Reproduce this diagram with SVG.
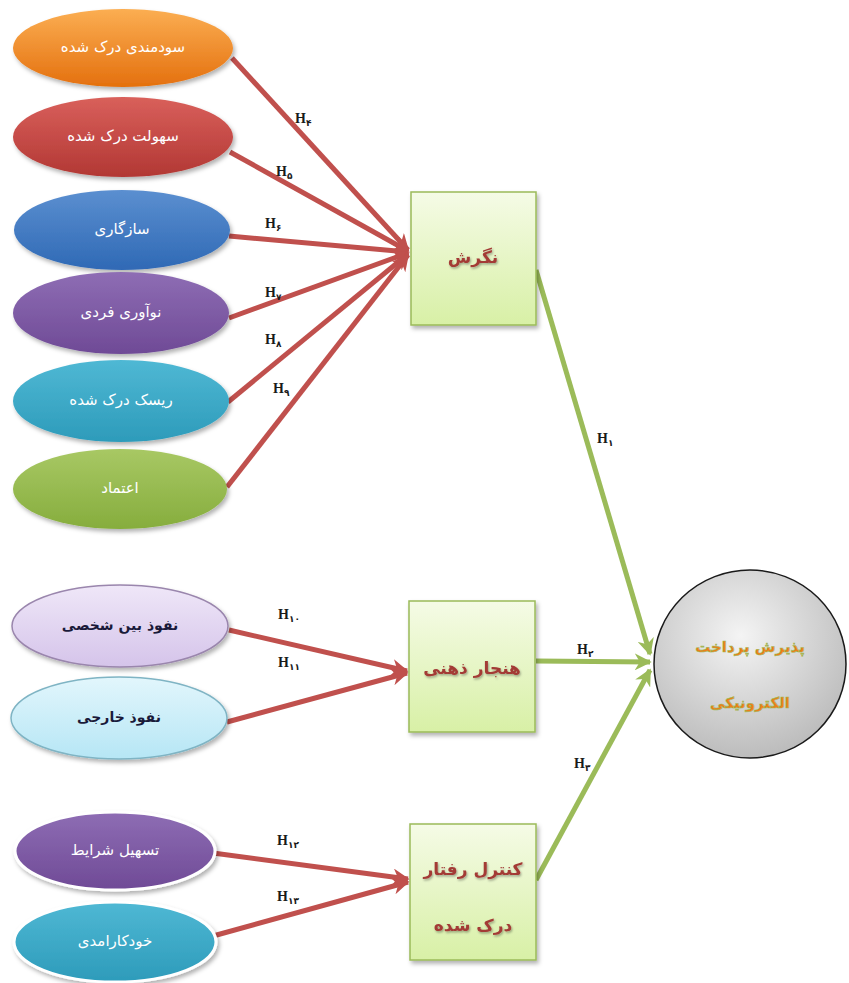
<svg xmlns="http://www.w3.org/2000/svg" width="849" height="983" viewBox="0 0 849 983">
<defs>
<style>
.et{font-family:"DejaVu Sans",sans-serif;font-size:15px;fill:#ffffff;text-anchor:middle;dominant-baseline:central}
.ed{font-family:"DejaVu Sans",sans-serif;font-size:14px;font-weight:bold;fill:#1a1a3a;text-anchor:middle;dominant-baseline:central}
.bt{font-family:"DejaVu Sans",sans-serif;font-size:17px;font-weight:bold;fill:#a33a36;text-anchor:middle;dominant-baseline:central}
.ct{font-family:"DejaVu Sans",sans-serif;font-size:15px;font-weight:bold;fill:#f07d1a;stroke:#9bbb59;stroke-width:0.6;text-anchor:middle;dominant-baseline:central}
.hl{font-family:"Liberation Serif",serif;font-size:14px;font-weight:bold;fill:#1a1a1a}
.hs{font-family:"DejaVu Sans",sans-serif;font-size:9px}
.red{stroke:#c0504d;stroke-width:5;fill:none;marker-end:url(#ar)}
.grn{stroke:#9bbb59;stroke-width:5;fill:none;marker-end:url(#ag)}
.box{fill:url(#gb);stroke:#9bbb59;stroke-width:1.5;filter:url(#sh)}
</style>
<filter id="sh" x="-20%" y="-20%" width="140%" height="140%"><feDropShadow dx="2" dy="3" stdDeviation="2" flood-color="#000" flood-opacity="0.3"/></filter>
<filter id="ts" x="-20%" y="-20%" width="140%" height="140%"><feDropShadow dx="1" dy="1.5" stdDeviation="1" flood-color="#000" flood-opacity="0.35"/></filter>
<marker id="ar" viewBox="0 0 10 10" refX="9" refY="5" markerWidth="3.4" markerHeight="3.4" orient="auto" markerUnits="strokeWidth"><path d="M0,0 L10,5 L0,10 L3,5 Z" fill="#c0504d"/></marker>
<marker id="ag" viewBox="0 0 10 10" refX="9" refY="5" markerWidth="3.4" markerHeight="3.4" orient="auto" markerUnits="strokeWidth"><path d="M0,0 L10,5 L0,10 L3,5 Z" fill="#9bbb59"/></marker>
<linearGradient id="go" x1="0" y1="0" x2="0" y2="1"><stop offset="0" stop-color="#fbae52"/><stop offset="1" stop-color="#e4700e"/></linearGradient>
<linearGradient id="gr" x1="0" y1="0" x2="0" y2="1"><stop offset="0" stop-color="#d9605b"/><stop offset="1" stop-color="#b23834"/></linearGradient>
<linearGradient id="gbl" x1="0" y1="0" x2="0" y2="1"><stop offset="0" stop-color="#5b8fd0"/><stop offset="1" stop-color="#2f69b5"/></linearGradient>
<linearGradient id="gp" x1="0" y1="0" x2="0" y2="1"><stop offset="0" stop-color="#8e6db4"/><stop offset="1" stop-color="#6f4a96"/></linearGradient>
<linearGradient id="gt" x1="0" y1="0" x2="0" y2="1"><stop offset="0" stop-color="#4fb8d4"/><stop offset="1" stop-color="#2d9bba"/></linearGradient>
<linearGradient id="gg" x1="0" y1="0" x2="0" y2="1"><stop offset="0" stop-color="#a8c864"/><stop offset="1" stop-color="#86ad3d"/></linearGradient>
<linearGradient id="gl" x1="0" y1="0" x2="0" y2="1"><stop offset="0" stop-color="#efe7f8"/><stop offset="1" stop-color="#d5c4ea"/></linearGradient>
<linearGradient id="gc" x1="0" y1="0" x2="0" y2="1"><stop offset="0" stop-color="#e2f6fc"/><stop offset="1" stop-color="#b6e6f5"/></linearGradient>
<linearGradient id="gb" x1="0" y1="0" x2="0" y2="1"><stop offset="0" stop-color="#f5fbe6"/><stop offset="1" stop-color="#d8f0a6"/></linearGradient>
<radialGradient id="gci" cx="0.45" cy="0.35" r="0.7"><stop offset="0" stop-color="#f4f4f4"/><stop offset="1" stop-color="#b8b8b8"/></radialGradient>
</defs>
<rect width="849" height="983" fill="#ffffff"/>

<g id="connectors">
<line class="red" x1="232" y1="58" x2="408" y2="250"/>
<line class="red" x1="230" y1="152" x2="408" y2="251"/>
<line class="red" x1="229" y1="236" x2="408" y2="252"/>
<line class="red" x1="229" y1="318" x2="408" y2="253"/>
<line class="red" x1="228" y1="402" x2="408" y2="254"/>
<line class="red" x1="227" y1="487" x2="408" y2="255"/>
<line class="red" x1="229" y1="630" x2="407" y2="671"/>
<line class="red" x1="227" y1="722" x2="407" y2="673"/>
<line class="red" x1="213" y1="853" x2="408" y2="879"/>
<line class="red" x1="213" y1="936" x2="408" y2="882"/>
<line class="grn" x1="536" y1="270" x2="650" y2="654"/>
<line class="grn" x1="536" y1="661" x2="650" y2="662"/>
<line class="grn" x1="536" y1="880" x2="650" y2="670"/>
<text class="hl" x="295" y="123">H<tspan class="hs" dy="3">۴</tspan></text>
<text class="hl" x="276" y="176">H<tspan class="hs" dy="3">۵</tspan></text>
<text class="hl" x="265" y="228">H<tspan class="hs" dy="3">۶</tspan></text>
<text class="hl" x="265" y="297">H<tspan class="hs" dy="3">۷</tspan></text>
<text class="hl" x="265" y="344">H<tspan class="hs" dy="3">۸</tspan></text>
<text class="hl" x="273" y="393">H<tspan class="hs" dy="3">۹</tspan></text>
<text class="hl" x="278" y="619">H<tspan class="hs" dy="3">۱۰</tspan></text>
<text class="hl" x="278" y="667">H<tspan class="hs" dy="3">۱۱</tspan></text>
<text class="hl" x="277" y="845">H<tspan class="hs" dy="3">۱۲</tspan></text>
<text class="hl" x="277" y="901">H<tspan class="hs" dy="3">۱۳</tspan></text>
<text class="hl" x="597" y="443">H<tspan class="hs" dy="3">۱</tspan></text>
<text class="hl" x="577" y="654">H<tspan class="hs" dy="3">۲</tspan></text>
<text class="hl" x="574" y="768">H<tspan class="hs" dy="3">۳</tspan></text>
</g>

<g id="n-sodmandi"><ellipse cx="123" cy="48" rx="110" ry="39" fill="url(#go)" filter="url(#sh)"/><text class="et" x="123" y="47">سودمندی درک شده</text></g>
<g id="n-sohoolat"><ellipse cx="123" cy="137" rx="110" ry="40" fill="url(#gr)" filter="url(#sh)"/><text class="et" x="123" y="136">سهولت درک شده</text></g>
<g id="n-sazgari"><ellipse cx="122" cy="230" rx="108" ry="40" fill="url(#gbl)" filter="url(#sh)"/><text class="et" x="122" y="229">سازگاری</text></g>
<g id="n-noavari"><ellipse cx="121" cy="313" rx="108" ry="41" fill="url(#gp)" filter="url(#sh)"/><text class="et" x="121" y="312">نوآوری فردی</text></g>
<g id="n-risk"><ellipse cx="121" cy="401" rx="108" ry="41" fill="url(#gt)" filter="url(#sh)"/><text class="et" x="121" y="400">ریسک درک شده</text></g>
<g id="n-etemad"><ellipse cx="120" cy="489" rx="107" ry="40" fill="url(#gg)" filter="url(#sh)"/><text class="et" x="120" y="488">اعتماد</text></g>
<g id="n-nofooz-bein"><ellipse cx="120" cy="626" rx="108" ry="41" fill="url(#gl)" stroke="#9a86ad" stroke-width="1.5" filter="url(#sh)"/><text class="ed" x="120" y="625">نفوذ بین شخصی</text></g>
<g id="n-nofooz-khareji"><ellipse cx="119" cy="718" rx="108" ry="41" fill="url(#gc)" stroke="#7fb4c4" stroke-width="1.5" filter="url(#sh)"/><text class="ed" x="119" y="717">نفوذ خارجی</text></g>
<g id="n-tasheel"><ellipse cx="115" cy="851" rx="100" ry="39" fill="url(#gp)" stroke="#ffffff" stroke-width="3" filter="url(#sh)"/><text class="et" x="115" y="850">تسهیل شرایط</text></g>
<g id="n-khodkaramadi"><ellipse cx="115" cy="942" rx="101" ry="40" fill="url(#gt)" stroke="#ffffff" stroke-width="3" filter="url(#sh)"/><text class="et" x="115" y="941">خودکارامدی</text></g>

<g id="n-negaresh"><rect class="box" x="411" y="192" width="125" height="133"/><text class="bt" x="473" y="257" filter="url(#ts)">نگرش</text></g>
<g id="n-hanjar"><rect class="box" x="409" y="601" width="126" height="131"/><text class="bt" x="472" y="668" filter="url(#ts)">هنجار ذهنی</text></g>
<g id="n-kontrol"><rect class="box" x="410" y="824" width="126" height="136"/><text class="bt" x="473" y="869" filter="url(#ts)">کنترل رفتار</text><text class="bt" x="473" y="925" filter="url(#ts)">درک شده</text></g>
<g id="n-paziresh"><ellipse cx="750" cy="664" rx="96" ry="94" fill="url(#gci)" stroke="#1a1a1a" stroke-width="1.5"/><text class="ct" x="750" y="647">پذیرش پرداخت</text><text class="ct" x="750" y="703">الکترونیکی</text></g>
</svg>
